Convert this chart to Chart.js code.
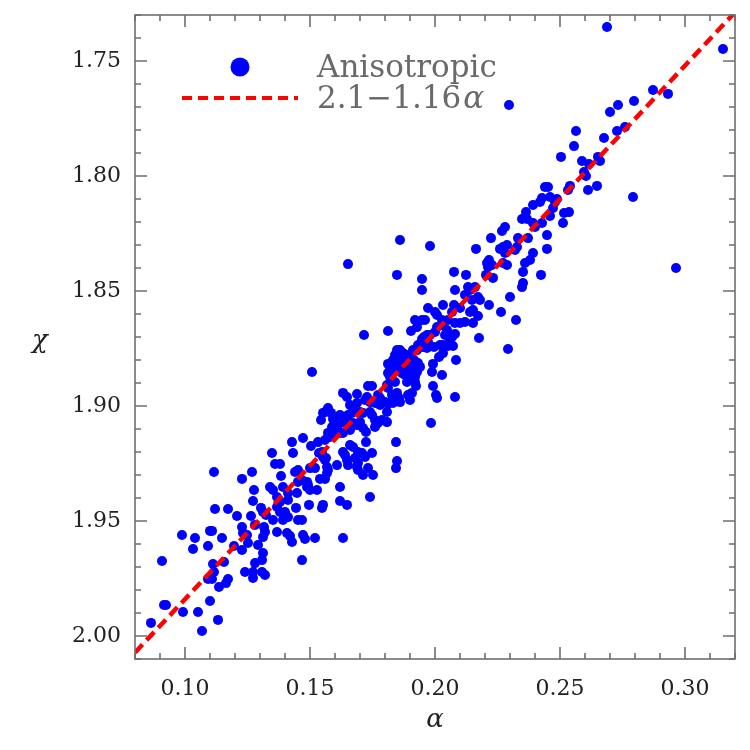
<!DOCTYPE html>
<html>
<head>
<meta charset="utf-8">
<script src="https://cdn.jsdelivr.net/npm/chart.js@4.4.0/dist/chart.umd.min.js"></script>
<style>
  html, body { margin: 0; padding: 0; background: #fff; }
  #wrap { width: 750px; height: 750px; }
</style>
</head>
<body>
<div id="wrap"><canvas id="myChart" width="750" height="750"></canvas></div>
<script>
// anisotropic sample, alpha and chi
let alphaVals = [
  0.0864, 0.0908, 0.0916, 0.0924, 0.0988, 0.0992, 0.1032, 0.1040, 0.1052, 0.1068,
  0.1092, 0.1100, 0.1108, 0.1100, 0.1112, 0.1116, 0.1120, 0.1092, 0.1108, 0.1116,
  0.1132, 0.1136, 0.1148, 0.1164, 0.1172, 0.1156, 0.1172, 0.1196, 0.1208,

  0.1732, 0.1748, 0.1808, 0.1812, 0.1840, 0.1888, 0.1920, 0.1924, 0.1992, 0.1632,
  0.1648, 0.1688, 0.1728, 0.1720, 0.1772, 0.1780, 0.1828, 0.1832, 0.1848, 0.1856,
  0.1892, 0.1908, 0.1900, 0.2004, 0.2008, 0.1660, 0.1672, 0.1688, 0.1740, 0.1760,
  0.1780, 0.1800, 0.1812, 0.1832, 0.1860, 0.1572, 0.1560, 0.1552, 0.1584, 0.1620,
  0.1652, 0.1668, 0.1700, 0.1712, 0.1740, 0.1748, 0.1808, 0.1544, 0.1592, 0.1608,
  0.1620, 0.1640, 0.1648, 0.1672, 0.1688, 0.1700, 0.1760, 0.1772, 0.1788, 0.1808,
  0.1760, 0.1984, 0.1588, 0.1600, 0.1612, 0.1660, 0.1712, 0.1724, 0.1572, 0.1580,
  0.1592, 0.1620, 0.1632, 0.1560, 0.1532, 0.1504, 0.1472, 0.1428, 0.1432, 0.1348,
  0.1536, 0.1548, 0.1552, 0.1564, 0.1632, 0.1640, 0.1660, 0.1672, 0.1692, 0.1708,
  0.1748, 0.1724, 0.1844, 0.1648, 0.1652, 0.1680, 0.1692, 0.1720, 0.1688, 0.1692,
  0.1732, 0.1752, 0.1712, 0.1848, 0.1844, 0.1360, 0.1380, 0.1440, 0.1452, 0.1500,
  0.1520, 0.1560, 0.1568, 0.1572, 0.1568, 0.1608, 0.1540, 0.1560, 0.1488, 0.1492,
  0.1468, 0.1452, 0.1268, 0.1228, 0.1384, 0.1528, 0.1620, 0.1500, 0.1488, 0.1340,
  0.1352, 0.1392, 0.1368, 0.1412, 0.1448, 0.1276, 0.1272, 0.1380, 0.1412, 0.1496,
  0.1548, 0.1552, 0.1620, 0.1648, 0.1740, 0.1304, 0.1312, 0.1264, 0.1368, 0.1380,
  0.1400, 0.1444, 0.1324, 0.1352, 0.1392, 0.1412, 0.1452, 0.1468, 0.1280, 0.1228,
  0.1232, 0.1316, 0.1320, 0.1312, 0.1368, 0.1408, 0.1420, 0.1428, 0.1472, 0.1480,
  0.1520, 0.1632, 0.1248, 0.1252, 0.1228, 0.1292, 0.1312, 0.1468, 0.1280, 0.1308,
  0.1240, 0.1272, 0.1308, 0.1320, 0.1272,

  0.1860, 0.1980, 0.2164, 0.2260, 0.2272, 0.2288, 0.2280, 0.2320, 0.2328, 0.2392,
  0.2448, 0.2208, 0.2216, 0.2228, 0.2212, 0.2272, 0.2288, 0.2360, 0.2380, 0.2352,
  0.2424, 0.1848, 0.1948, 0.1948, 0.2076, 0.2124, 0.2204, 0.2232, 0.2352, 0.2348,
  0.2080, 0.2132, 0.2140, 0.2160, 0.2172, 0.2180, 0.2148, 0.2120, 0.2216, 0.2300,
  0.2032, 0.2076, 0.1972, 0.2000, 0.2008, 0.2068, 0.2100, 0.2140, 0.2152, 0.2172,
  0.2264, 0.2324, 0.1920, 0.1948, 0.1960, 0.2028, 0.2028, 0.2052, 0.2100, 0.2120,
  0.2152, 0.1904, 0.1928, 0.1812, 0.1716, 0.2008, 0.2000, 0.2048, 0.2040, 0.2080,
  0.2080, 0.2068, 0.2060, 0.1956, 0.1948, 0.1968, 0.1980, 0.2176, 0.1972, 0.2020,
  0.2032, 0.2052, 0.2072, 0.1932, 0.1928, 0.1952, 0.1968, 0.1912, 0.1996, 0.1848,
  0.1860, 0.1872, 0.1868, 0.1840, 0.1832, 0.1888, 0.1892, 0.2032, 0.2016, 0.2084,
  0.2292, 0.1916, 0.1920, 0.1932, 0.1940, 0.1900, 0.1908, 0.1868, 0.1860, 0.1840,
  0.1832, 0.1812, 0.1820, 0.1888, 0.1892, 0.1928, 0.1992, 0.1988, 0.2028, 0.1868,
  0.1880, 0.1900, 0.1920, 0.1812, 0.1820, 0.2080,

  0.1652, 0.1508,

  0.2688, 0.3152, 0.2296, 0.2872, 0.2932, 0.2700, 0.2732, 0.2796, 0.2564, 0.2728,
  0.2760, 0.2676, 0.2556, 0.2504, 0.2588, 0.2652, 0.2660, 0.2616, 0.2596, 0.2604,
  0.2612, 0.2648, 0.2440, 0.2452, 0.2532, 0.2540, 0.2428, 0.2420, 0.2460, 0.2480,
  0.2488, 0.2392, 0.2516, 0.2536, 0.2472, 0.2364, 0.2368, 0.2348, 0.2460, 0.2392,
  0.2400, 0.2512, 0.2428, 0.2280, 0.2268, 0.2332, 0.2224, 0.2372, 0.2448, 0.2792,
  0.2964
];
let chiVals = [
  1.9943, 1.9674, 1.9865, 1.9865, 1.9561, 1.9896, 1.9622, 1.9574, 1.9896, 1.9978,
  1.9609, 1.9543, 1.9543, 1.9848, 1.9687, 1.9287, 1.9448, 1.9752, 1.9752, 1.9722,
  1.9930, 1.9787, 1.9574, 1.9770, 1.9752, 1.9678, 1.9448, 1.9609, 1.9478,

  1.8913, 1.8913, 1.8909, 1.8922, 1.8896, 1.8896, 1.8896, 1.8913, 1.8913, 1.8943,
  1.8961, 1.8948, 1.8961, 1.8974, 1.8952, 1.8965, 1.8952, 1.8974, 1.8943, 1.8965,
  1.8952, 1.8943, 1.8974, 1.8952, 1.8965, 1.8996, 1.9004, 1.8987, 1.8983, 1.8987,
  1.8996, 1.8983, 1.8991, 1.8987, 1.8983, 1.9009, 1.9026, 1.9030, 1.9030, 1.9039,
  1.9039, 1.9030, 1.9026, 1.9030, 1.9026, 1.9039, 1.9026, 1.9061, 1.9057, 1.9061,
  1.9070, 1.9074, 1.9052, 1.9074, 1.9083, 1.9070, 1.9061, 1.9074, 1.9061, 1.9070,
  1.9091, 1.9074, 1.9091, 1.9104, 1.9083, 1.9104, 1.9096, 1.9113, 1.9117, 1.9135,
  1.9126, 1.9117, 1.9117, 1.9148, 1.9157, 1.9174, 1.9139, 1.9157, 1.9204, 1.9204,
  1.9204, 1.9200, 1.9222, 1.9226, 1.9200, 1.9213, 1.9170, 1.9178, 1.9200, 1.9204,
  1.9204, 1.9157, 1.9157, 1.9235, 1.9257, 1.9226, 1.9248, 1.9222, 1.9265, 1.9278,
  1.9270, 1.9300, 1.9300, 1.9239, 1.9270, 1.9252, 1.9252, 1.9287, 1.9278, 1.9270,
  1.9270, 1.9235, 1.9265, 1.9278, 1.9291, 1.9257, 1.9317, 1.9317, 1.9330, 1.9343,
  1.9322, 1.9330, 1.9287, 1.9317, 1.9304, 1.9365, 1.9352, 1.9365, 1.9352, 1.9352,
  1.9365, 1.9352, 1.9396, 1.9378, 1.9378, 1.9365, 1.9413, 1.9417, 1.9409, 1.9430,
  1.9443, 1.9430, 1.9413, 1.9430, 1.9396, 1.9443, 1.9461, 1.9478, 1.9439, 1.9461,
  1.9461, 1.9443, 1.9474, 1.9496, 1.9496, 1.9483, 1.9496, 1.9496, 1.9517, 1.9526,
  1.9552, 1.9526, 1.9548, 1.9570, 1.9548, 1.9552, 1.9565, 1.9591, 1.9561, 1.9578,
  1.9574, 1.9574, 1.9561, 1.9596, 1.9626, 1.9604, 1.9639, 1.9670, 1.9683, 1.9670,
  1.9722, 1.9722, 1.9722, 1.9735, 1.9748,

  1.8278, 1.8304, 1.8317, 1.8317, 1.8309, 1.8300, 1.8335, 1.8322, 1.8309, 1.8335,
  1.8317, 1.8378, 1.8365, 1.8387, 1.8396, 1.8378, 1.8387, 1.8378, 1.8365, 1.8417,
  1.8430, 1.8430, 1.8448, 1.8496, 1.8417, 1.8430, 1.8430, 1.8443, 1.8465, 1.8483,
  1.8496, 1.8483, 1.8496, 1.8483, 1.8526, 1.8539, 1.8539, 1.8517, 1.8561, 1.8526,
  1.8561, 1.8561, 1.8574, 1.8591, 1.8604, 1.8591, 1.8574, 1.8591, 1.8583, 1.8609,
  1.8591, 1.8626, 1.8626, 1.8626, 1.8626, 1.8626, 1.8648, 1.8626, 1.8639, 1.8635,
  1.8639, 1.8674, 1.8657, 1.8674, 1.8691, 1.8657, 1.8678, 1.8670, 1.8691, 1.8639,
  1.8687, 1.8700, 1.8713, 1.8700, 1.8709, 1.8691, 1.8691, 1.8704, 1.8722, 1.8735,
  1.8735, 1.8739, 1.8739, 1.8735, 1.8757, 1.8743, 1.8748, 1.8757, 1.8743, 1.8757,
  1.8757, 1.8770, 1.8787, 1.8778, 1.8800, 1.8778, 1.8791, 1.8770, 1.8787, 1.8800,
  1.8752, 1.8800, 1.8813, 1.8813, 1.8830, 1.8813, 1.8830, 1.8813, 1.8830, 1.8822,
  1.8835, 1.8817, 1.8843, 1.8830, 1.8852, 1.8852, 1.8817, 1.8852, 1.8865, 1.8857,
  1.8865, 1.8865, 1.8874, 1.8857, 1.8874, 1.8961,

  1.8383, 1.8852,

  1.7352, 1.7448, 1.7691, 1.7626, 1.7643, 1.7722, 1.7691, 1.7674, 1.7804, 1.7804,
  1.7787, 1.7835, 1.7870, 1.7917, 1.7935, 1.7917, 1.7935, 1.7948, 1.7983, 1.8000,
  1.8061, 1.8043, 1.8048, 1.8048, 1.8061, 1.8043, 1.8096, 1.8113, 1.8091, 1.8113,
  1.8100, 1.8126, 1.8161, 1.8157, 1.8139, 1.8157, 1.8187, 1.8187, 1.8174, 1.8204,
  1.8222, 1.8204, 1.8204, 1.8222, 1.8239, 1.8270, 1.8270, 1.8270, 1.8257, 1.8091,
  1.8400
];

// fit line 2.1 - 1.16*alpha, end points at the axis limits
let fitAlpha = [0.08, 0.32];
let fitChi = [2.0072, 1.7288];

let xTicks = [0.10, 0.15, 0.20, 0.25, 0.30];
let yTicks = [1.75, 1.80, 1.85, 1.90, 1.95, 2.00];

let legendLabels = ["Anisotropic", "2.1\u22121.16", "\u03b1"];

let myChart = document.querySelector("#myChart");

const fontFam = "'DejaVu Serif', serif";

const frameTicks = {
  id: "frameTicks",
  afterDatasetsDraw(chart) {
    const ctx = chart.ctx;
    const a = chart.chartArea;
    const x = chart.scales.x;
    const y = chart.scales.y;

    ctx.save();
    ctx.strokeStyle = "#6e6e6e";
    ctx.lineWidth = 1.6;
    ctx.strokeRect(a.left, a.top, a.right - a.left, a.bottom - a.top);

    ctx.beginPath();
    for (let i = 8; i <= 32; i++) {
      let px = x.getPixelForValue(i / 100);
      let len = i % 5 === 0 ? 12 : 6;
      ctx.moveTo(px, a.bottom); ctx.lineTo(px, a.bottom - len);
      ctx.moveTo(px, a.top); ctx.lineTo(px, a.top + len);
    }
    for (let i = 173; i <= 201; i++) {
      let py = y.getPixelForValue(i / 100);
      let len = i % 5 === 0 ? 12 : 6;
      ctx.moveTo(a.left, py); ctx.lineTo(a.left + len, py);
      ctx.moveTo(a.right, py); ctx.lineTo(a.right - len, py);
    }
    ctx.stroke();

    // axis titles
    ctx.fillStyle = "#222";
    ctx.textAlign = "center";
    ctx.textBaseline = "middle";
    ctx.font = "italic 26px " + fontFam;
    ctx.fillText("\u03b1", (a.left + a.right) / 2, 720);
    ctx.fillText("\u03c7", 40, (a.top + a.bottom) / 2 + 4);

    // legend
    ctx.fillStyle = "#0000ff";
    ctx.beginPath();
    ctx.arc(a.left + 105, a.top + 52, 9.5, 0, Math.PI * 2);
    ctx.fill();

    ctx.strokeStyle = "#ff0000";
    ctx.lineWidth = 4;
    ctx.setLineDash([10, 6]);
    ctx.beginPath();
    ctx.moveTo(a.left + 47, a.top + 83);
    ctx.lineTo(a.left + 163, a.top + 83);
    ctx.stroke();
    ctx.setLineDash([]);

    ctx.fillStyle = "#6a6a6a";
    ctx.textAlign = "left";
    ctx.textBaseline = "alphabetic";
    ctx.font = "31px " + fontFam;
    ctx.fillText(legendLabels[0], a.left + 182, a.top + 62);
    ctx.fillText(legendLabels[1], a.left + 182, a.top + 93);
    let w = ctx.measureText(legendLabels[1]).width;
    ctx.font = "italic 31px " + fontFam;
    ctx.fillText(legendLabels[2], a.left + 184 + w, a.top + 93);
    ctx.restore();
  }
};

const puntos = alphaVals.map((v, i) => ({ x: v, y: chiVals[i] }));
const recta = fitAlpha.map((v, i) => ({ x: v, y: fitChi[i] }));

const conf = {
  type: "scatter",
  data: {
    datasets: [
      {
        label: "2.1-1.16a",
        type: "line",
        data: recta,
        borderColor: "#ff0000",
        borderWidth: 4.5,
        borderDash: [11, 6],
        pointRadius: 0,
        fill: false,
        order: 0
      },
      {
        label: "Anisotropic",
        data: puntos,
        backgroundColor: "#0000ff",
        borderWidth: 0,
        pointRadius: 5,
        pointHoverRadius: 5,
        order: 1
      }
    ]
  },
  options: {
    responsive: false,
    animation: false,
    events: [],
    layout: { padding: { top: 15, right: 15, left: 0, bottom: 0 } },
    plugins: {
      legend: { display: false },
      tooltip: { enabled: false }
    },
    scales: {
      x: {
        type: "linear",
        min: 0.08,
        max: 0.32,
        afterBuildTicks: s => { s.ticks = xTicks.map(v => ({ value: v })); },
        afterFit: s => { s.height = 91; s.paddingLeft = 0; s.paddingRight = 0; },
        grid: { display: false, drawTicks: false },
        border: { display: false },
        ticks: {
          padding: 17,
          color: "#222",
          maxRotation: 0,
          autoSkip: false,
          font: { family: fontFam, size: 22 },
          callback: v => v.toFixed(2)
        }
      },
      y: {
        type: "linear",
        reverse: true,
        min: 1.73,
        max: 2.01,
        afterBuildTicks: s => { s.ticks = yTicks.map(v => ({ value: v })); },
        afterFit: s => { s.width = 135; s.paddingTop = 0; s.paddingBottom = 0; },
        grid: { display: false, drawTicks: false },
        border: { display: false },
        ticks: {
          padding: 14,
          color: "#222",
          autoSkip: false,
          font: { family: fontFam, size: 22 },
          callback: v => v.toFixed(2)
        }
      }
    }
  },
  plugins: [frameTicks]
};

let grafico = new Chart(myChart, conf);
</script>
</body>
</html>
